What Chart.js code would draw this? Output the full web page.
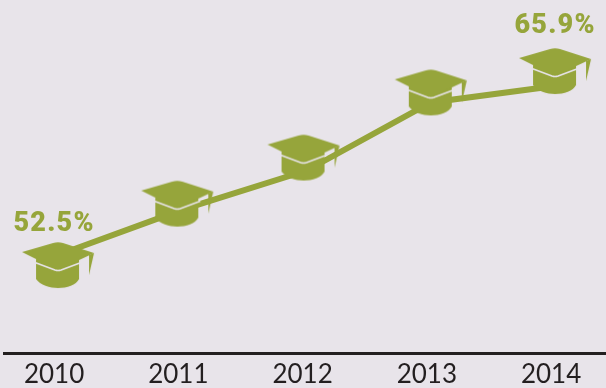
<!DOCTYPE html>
<html>
<head>
<meta charset="utf-8">
<style>
  html, body { margin: 0; padding: 0; background: #e8e4ea; }
  canvas { display: block; }
</style>
<script src="https://cdn.jsdelivr.net/npm/chart.js@4"></script>
</head>
<body>
<canvas id="rateChart" width="606" height="388"></canvas>
<script>
const years = [2010, 2011, 2012, 2013, 2014];
const rates = [52.5, 56.1, 59.2, 64.6, 65.9];
const labelledYears = [2010, 2014];

const GREEN = '#96a53b';
const PAPER = '#e8e4ea';
const INK = '#231f20';

// The line runs behind each crown, so caps sit a little off their points
const capShift = [[0, 0], [-5, -16], [-3, -23], [0, -20], [0, -25]];

// Graduation cap used as the point marker
function makeCap(dx, dy) {
    const c = document.createElement('canvas');
    c.width = 100;
    c.height = 140;
    const ctx = c.getContext('2d');
    ctx.translate(50 + dx, 70 + dy);
    ctx.fillStyle = GREEN;

    // crown
    ctx.beginPath();
    ctx.moveTo(-22, 4);
    ctx.lineTo(-22, 24);
    ctx.bezierCurveTo(-18, 30, -8, 33, 0, 33);
    ctx.bezierCurveTo(9, 33, 18, 30, 21, 24);
    ctx.lineTo(21, 4);
    ctx.closePath();
    ctx.fill();

    // gap under the board
    ctx.strokeStyle = PAPER;
    ctx.lineWidth = 1.6;
    ctx.beginPath();
    ctx.moveTo(-23, 7.5);
    ctx.lineTo(-3, 15);
    ctx.quadraticCurveTo(0, 16, 3, 15);
    ctx.lineTo(23, 7.5);
    ctx.stroke();

    // board
    ctx.beginPath();
    ctx.moveTo(-36, -3);
    ctx.lineTo(-5, -12);
    ctx.quadraticCurveTo(0, -13.5, 5, -12);
    ctx.lineTo(36, -2);
    ctx.lineTo(4, 13);
    ctx.quadraticCurveTo(0, 14.5, -4, 13);
    ctx.closePath();
    ctx.fill();

    // tassel
    ctx.beginPath();
    ctx.moveTo(36, -2);
    ctx.lineTo(31, 0);
    ctx.lineTo(31, 20);
    ctx.closePath();
    ctx.fill();
    return c;
}

// First and last values written above their caps
const endLabels = {
    id: 'endLabels',
    afterDatasetsDraw(chart) {
        const { ctx, scales } = chart;
        ctx.save();
        ctx.font = '900 27px Roboto';
        ctx.letterSpacing = '1.2px';
        ctx.fillStyle = GREEN;
        ctx.textAlign = 'center';
        ctx.textBaseline = 'middle';
        years.forEach((year, i) => {
            if (!labelledYears.includes(year)) return;
            const x = scales.x.getPixelForValue(year);
            const y = scales.y.getPixelForValue(rates[i]);
            const dx = i === 0 ? -4 : 0;
            const dy = i === 0 ? -31 : -60;
            ctx.fillText(rates[i].toFixed(1) + '%', x + dx, y + dy);
        });
        ctx.restore();
    }
};

new Chart(document.getElementById('rateChart'), {
    type: 'line',
    data: {
        datasets: [{
            data: years.map((year, i) => ({ x: year, y: rates[i] })),
            borderColor: GREEN,
            borderWidth: 6,
            tension: 0,
            pointStyle: capShift.map(([dx, dy]) => makeCap(dx, dy)),
            pointRadius: 20,
            clip: false
        }]
    },
    options: {
        responsive: false,
        animation: false,
        layout: { autoPadding: false, padding: { left: 4, right: 0, top: 0, bottom: 0 } },
        plugins: { legend: { display: false }, tooltip: { enabled: false } },
        scales: {
            x: {
                type: 'linear',
                min: 2009.565,
                max: 2014.41,
                grid: { display: false },
                border: { color: INK, width: 3 },
                afterBuildTicks(scale) {
                    scale.ticks = years.map(value => ({ value }));
                },
                afterFit(scale) {
                    scale.height = 35;
                    scale.paddingLeft = 0;
                    scale.paddingRight = 0;
                },
                ticks: {
                    autoSkip: false,
                    maxRotation: 0,
                    padding: -2,
                    labelOffset: -4,
                    color: INK,
                    font: { family: 'Lato', size: 26 },
                    callback: value => String(value)
                }
            },
            y: { display: false, min: 44.73, max: 72.72 }
        }
    },
    plugins: [endLabels]
});
</script>
</body>
</html>
